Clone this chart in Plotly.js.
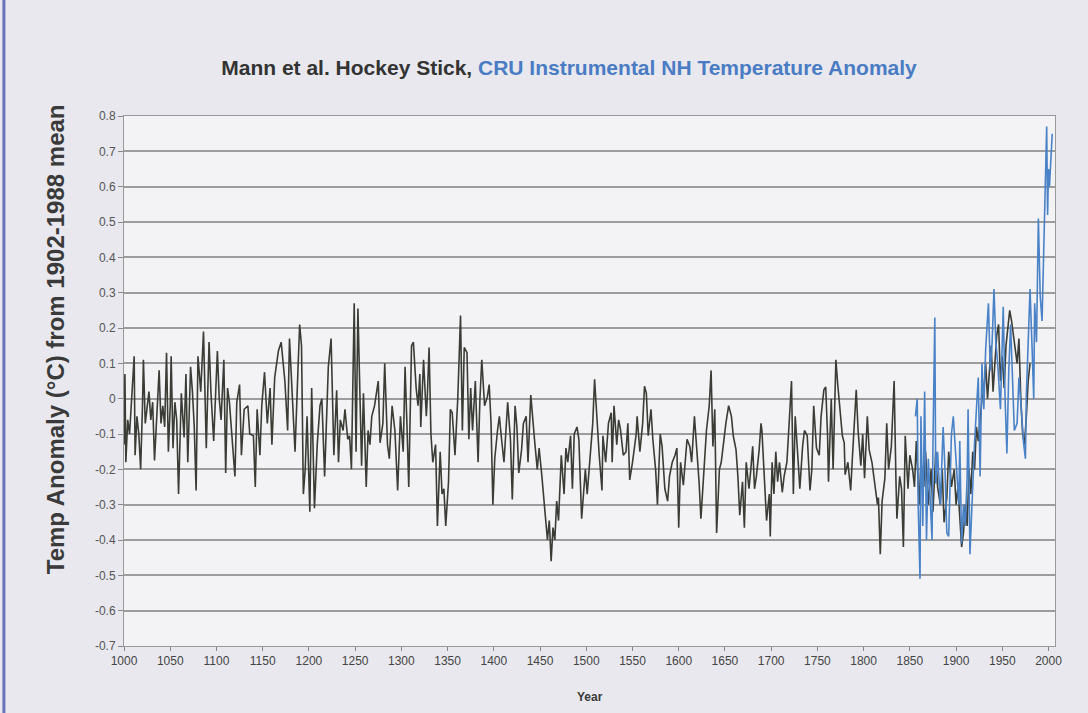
<!DOCTYPE html>
<html>
<head>
<meta charset="utf-8">
<script src="https://cdn.plot.ly/plotly-3.0.1.min.js"></script>
<style>
  html, body { margin: 0; padding: 0; background: #e8e8ee; }
  #chart { width: 1088px; height: 713px; }
</style>
</head>
<body>
<div id="chart"></div>
<script>
// Mann et al. reconstruction (years / anomaly °C)
const mannYears = [1000,1001,1002,1004,1006,1008,1011,1012,1014,1016,1018,1020,1021,1023,1025,1027,1029,1031,1033,1035,1038,1040,1042,1044,1046,1048,1050,1051,1053,1055,1057,1059,1062,1065,1067,1069,1072,1074,1076,1078,1080,1083,1086,1089,1092,1094,1097,1101,1103,1105,1108,1110,1112,1114,1116,1120,1122,1125,1127,1130,1134,1136,1140,1142,1144,1147,1149,1152,1155,1158,1160,1163,1167,1170,1174,1177,1179,1182,1185,1188,1190,1192,1194,1196,1198,1201,1203,1206,1209,1212,1214,1217,1221,1224,1227,1230,1232,1234,1237,1239,1242,1244,1246,1249,1251,1253,1255,1257,1259,1262,1264,1266,1268,1271,1275,1277,1280,1282,1285,1287,1290,1293,1296,1299,1302,1304,1306,1308,1311,1313,1316,1318,1320,1321,1324,1327,1328,1330,1332,1334,1337,1339,1342,1344,1346,1348,1351,1353,1355,1358,1361,1364,1366,1368,1371,1373,1375,1377,1380,1383,1385,1387,1390,1393,1395,1397,1399,1401,1404,1406,1408,1411,1415,1418,1420,1423,1425,1427,1430,1432,1435,1437,1440,1442,1444,1447,1449,1452,1455,1458,1460,1462,1464,1466,1468,1470,1473,1476,1478,1480,1483,1485,1487,1490,1492,1495,1498,1499,1501,1504,1507,1509,1512,1514,1517,1518,1521,1524,1527,1528,1530,1533,1535,1537,1540,1543,1545,1547,1550,1554,1555,1558,1561,1563,1565,1567,1570,1572,1575,1577,1580,1582,1585,1588,1590,1593,1596,1598,1600,1602,1605,1607,1609,1612,1614,1617,1619,1622,1624,1627,1630,1633,1635,1637,1639,1641,1644,1646,1649,1651,1654,1657,1659,1662,1664,1666,1669,1671,1673,1676,1678,1680,1682,1684,1687,1689,1690,1693,1695,1698,1699,1701,1703,1705,1707,1709,1712,1714,1717,1719,1722,1724,1726,1729,1731,1734,1736,1739,1742,1744,1746,1749,1752,1754,1757,1759,1761,1762,1765,1767,1769,1770,1772,1774,1777,1779,1780,1783,1786,1788,1790,1792,1794,1797,1799,1801,1804,1806,1809,1813,1815,1816,1818,1820,1823,1825,1827,1830,1833,1835,1836,1839,1841,1843,1845,1848,1850,1853,1855,1857,1860,1862,1865,1867,1870,1873,1875,1878,1880,1883,1885,1887,1890,1892,1895,1898,1900,1902,1904,1906,1908,1910,1912,1914,1916,1918,1920,1922,1924,1926,1928,1930,1932,1934,1936,1938,1940,1942,1944,1946,1948,1950,1952,1954,1956,1958,1960,1962,1964,1966,1968,1970,1972,1974,1976,1978,1980];
const mannValues = [-0.13,0.07,-0.18,-0.06,-0.10,0.00,0.12,-0.16,-0.05,-0.10,-0.20,-0.02,0.11,-0.07,-0.03,0.02,-0.06,-0.01,-0.175,-0.06,0.08,-0.07,-0.02,-0.08,0.13,-0.15,-0.02,0.12,-0.14,-0.01,-0.06,-0.27,0.015,-0.11,0.07,-0.18,0.09,0.02,-0.08,-0.26,0.12,0.02,0.19,-0.14,0.16,0.02,-0.12,0.135,0.00,-0.06,0.11,-0.21,0.03,-0.01,-0.08,-0.22,-0.01,0.04,-0.16,-0.03,-0.02,-0.10,-0.105,-0.25,-0.03,-0.16,-0.02,0.075,-0.07,0.03,-0.13,0.06,0.135,0.16,0.05,-0.09,0.17,0.005,-0.15,0.07,0.21,0.15,-0.27,-0.20,-0.05,-0.32,0.03,-0.31,-0.13,-0.02,0.00,-0.22,0.09,0.17,-0.16,0.024,-0.18,-0.06,-0.09,-0.03,-0.115,-0.105,-0.20,0.27,-0.15,0.255,0.00,-0.19,0.015,-0.25,-0.09,-0.13,-0.05,-0.02,0.05,-0.125,-0.07,0.10,-0.13,-0.17,-0.02,-0.09,-0.26,-0.05,-0.15,0.09,-0.07,-0.25,0.15,0.16,0.03,-0.02,0.07,-0.08,0.11,-0.05,0.00,0.145,-0.10,-0.18,-0.13,-0.36,-0.15,-0.27,-0.255,-0.36,-0.235,-0.03,-0.04,-0.16,0.00,0.235,-0.09,0.145,0.13,-0.115,0.03,-0.09,0.05,-0.18,0.00,0.11,-0.02,0.005,0.04,-0.07,-0.30,-0.17,-0.09,-0.05,-0.105,-0.18,-0.01,-0.115,-0.285,-0.02,-0.08,-0.21,-0.145,-0.07,-0.05,-0.18,0.01,-0.06,-0.115,-0.20,-0.14,-0.22,-0.32,-0.40,-0.345,-0.46,-0.365,-0.40,-0.29,-0.345,-0.16,-0.27,-0.14,-0.18,-0.105,-0.255,-0.10,-0.08,-0.115,-0.34,-0.235,-0.20,-0.27,-0.18,-0.07,0.055,-0.087,-0.16,-0.26,-0.105,-0.18,-0.07,-0.04,-0.18,-0.02,-0.13,-0.06,-0.087,-0.16,-0.15,-0.07,-0.23,-0.18,-0.10,-0.05,-0.15,-0.07,0.035,0.015,-0.105,-0.03,-0.115,-0.20,-0.30,-0.10,-0.135,-0.255,-0.29,-0.22,-0.18,-0.16,-0.14,-0.365,-0.18,-0.245,-0.18,-0.115,-0.135,-0.18,-0.05,-0.115,-0.235,-0.34,-0.22,-0.09,-0.02,0.08,-0.135,-0.03,-0.38,-0.20,-0.18,-0.105,-0.07,-0.02,-0.05,-0.105,-0.145,-0.22,-0.33,-0.235,-0.365,-0.18,-0.255,-0.20,-0.135,-0.255,-0.22,-0.145,-0.07,-0.09,-0.235,-0.345,-0.27,-0.39,-0.18,-0.27,-0.15,-0.235,-0.18,-0.265,-0.22,-0.18,-0.09,0.05,-0.27,-0.05,-0.17,-0.255,-0.135,-0.09,-0.105,-0.26,-0.20,-0.02,-0.14,-0.16,-0.05,0.025,0.033,-0.105,-0.235,0.00,-0.20,0.07,0.11,0.04,-0.02,-0.105,-0.125,-0.215,-0.18,-0.26,-0.16,-0.07,0.025,-0.09,-0.19,-0.10,-0.225,-0.05,-0.145,-0.18,-0.27,-0.30,-0.28,-0.44,-0.29,-0.225,-0.07,-0.20,-0.135,0.05,-0.235,-0.34,-0.22,-0.255,-0.42,-0.105,-0.255,-0.16,-0.20,-0.25,-0.12,-0.30,-0.18,-0.25,-0.15,-0.30,-0.20,-0.32,-0.15,-0.25,-0.30,-0.20,-0.35,-0.28,-0.15,-0.25,-0.20,-0.30,-0.25,-0.35,-0.42,-0.38,-0.30,-0.36,-0.20,-0.27,-0.15,-0.20,-0.08,-0.12,-0.05,0.00,0.02,0.10,0.00,0.08,0.15,0.02,0.12,0.18,0.21,0.05,0.12,0.03,0.15,0.20,0.25,0.22,0.18,0.15,0.10,0.17,0.00,-0.10,-0.13,-0.05,0.05,0.10];

// CRU instrumental NH anomaly
const cruYears = [1856,1858,1859,1861,1862,1864,1866,1868,1870,1872,1874,1875,1877,1878,1880,1883,1886,1888,1890,1892,1895,1897,1900,1903,1904,1906,1908,1910,1912,1913,1915,1918,1920,1922,1924,1926,1928,1930,1932,1935,1937,1939,1941,1943,1945,1948,1949,1951,1953,1955,1957,1959,1961,1963,1966,1968,1970,1973,1975,1976,1978,1980,1982,1984,1985,1987,1989,1991,1993,1995,1996,1998,1999,2000,2001,2003,2004];
const cruValues = [-0.05,0.00,-0.30,-0.51,-0.05,-0.36,0.02,-0.40,-0.17,-0.30,-0.40,-0.13,0.23,-0.24,-0.15,-0.30,-0.08,-0.20,-0.38,-0.39,-0.10,-0.05,-0.17,-0.30,-0.12,-0.41,-0.30,-0.36,-0.22,-0.03,-0.44,-0.22,-0.125,-0.03,0.06,-0.22,0.10,-0.03,0.14,0.27,0.08,0.16,0.31,0.16,0.10,-0.03,0.06,0.26,0.00,-0.155,0.08,0.21,0.06,-0.09,-0.07,0.06,-0.01,-0.125,-0.17,0.01,0.16,0.31,0.16,0.00,0.27,0.16,0.51,0.29,0.22,0.44,0.59,0.77,0.52,0.65,0.60,0.72,0.75];

const yTickVals = [0.8,0.7,0.6,0.5,0.4,0.3,0.2,0.1,0,-0.1,-0.2,-0.3,-0.4,-0.5,-0.6,-0.7];
const yTickText = ["0.8","0.7","0.6","0.5","0.4","0.3","0.2","0.1","0","-0.1","-0.2","-0.3","-0.4","-0.5","-0.6","-0.7"];
const xTickVals = [1000,1050,1100,1150,1200,1250,1300,1350,1400,1450,1500,1550,1600,1650,1700,1750,1800,1850,1900,1950,2000];

const traces = [
  {x: mannYears, y: mannValues, type: 'scatter', mode: 'lines', name: 'Mann',
   line: {color: '#3a3d35', width: 1.6}, hoverinfo: 'x+y'},
  {x: cruYears, y: cruValues, type: 'scatter', mode: 'lines', name: 'CRU',
   line: {color: '#4a82c8', width: 1.6}, hoverinfo: 'x+y'}
];

const layout = {
  width: 1088, height: 713,
  paper_bgcolor: '#e8e8ee',
  plot_bgcolor: '#f3f3f5',
  showlegend: false,
  margin: {l: 124, r: 33, t: 116, b: 67},
  font: {family: 'Liberation Sans, Arial, sans-serif', color: '#4a4a4a'},
  title: {
    text: "<b>Mann et al. Hockey Stick, <span style='color:#4a7cc4'>CRU Instrumental NH Temperature Anomaly</span></b>",
    font: {size: 21, color: '#333333', family: 'Liberation Sans, Arial, sans-serif'},
    xref: 'container', x: 0.523, xanchor: 'center',
    yref: 'container', y: 0.905, yanchor: 'middle'
  },
  xaxis: {
    range: [1000, 2007],
    tickvals: xTickVals,
    ticks: 'outside', ticklen: 4, tickcolor: '#888',
    tickfont: {size: 12, color: '#444'},
    showgrid: false, zeroline: false,
    showline: true, linecolor: '#999', linewidth: 1, mirror: true
  },
  yaxis: {
    range: [-0.7, 0.8],
    tickvals: yTickVals, ticktext: yTickText,
    ticks: 'outside', ticklen: 5, tickcolor: '#888',
    tickfont: {size: 12, color: '#555'},
    showgrid: true, gridcolor: '#9c9c9c', gridwidth: 2,
    zeroline: false,
    showline: true, linecolor: '#999', linewidth: 1, mirror: true
  },
  annotations: [
    {text: '<b>Temp Anomaly (°C) from 1902-1988 mean</b>', textangle: -90,
     xref: 'paper', yref: 'paper', x: -0.074, y: 0.579, xanchor: 'center', yanchor: 'middle',
     showarrow: false, font: {size: 24, color: '#3a3a3a'}},
    {text: '<b>Year</b>', xref: 'paper', yref: 'paper', x: 0.5, y: -0.096,
     xanchor: 'center', yanchor: 'middle', showarrow: false, font: {size: 12, color: '#3a3a3a'}}
  ],
  shapes: [
    {type: 'line', xref: 'paper', yref: 'paper', x0: -0.129, x1: -0.129, y0: -0.13, y1: 1.25,
     line: {color: '#6a72b8', width: 3}}
  ]
};

Plotly.newPlot('chart', traces, layout, {displayModeBar: false, staticPlot: true});
</script>
</body>
</html>
